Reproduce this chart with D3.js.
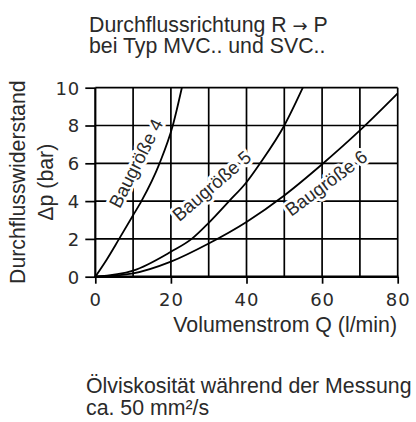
<!DOCTYPE html>
<html><head><meta charset="utf-8">
<script src="https://cdn.jsdelivr.net/npm/d3@7/dist/d3.min.js"></script>
<style>html,body{margin:0;padding:0;background:#fff;}svg{display:block;}</style>
</head><body>
<svg id="c" width="416" height="422"></svg>
<script>
// ---- data ----
const xTicks = [0, 20, 40, 60, 80];
const yTicks = [0, 2, 4, 6, 8, 10];
const xGrid = [10, 20, 30, 40, 50, 60, 70, 80];
const yGrid = [2, 4, 6, 8, 10];
const q4 = [0, 3, 6.3, 10, 12.2, 17, 20.5, 22.9];
const p4 = [0, 0.9, 2, 3.25, 4, 6, 8, 10];
const q5 = [0, 10, 20, 25.5, 30, 35.4, 40, 43.6, 50, 54.9];
const p5 = [0, 0.32, 1.32, 2, 2.85, 4, 5.0, 6, 8, 10];
const q6 = [0, 10, 20, 30, 40, 50, 60, 70, 80];
const p6 = [0, 0.18, 0.8, 1.76, 2.9, 4.3, 5.95, 7.74, 9.7];
const seriesNames = ["Baugröße 4", "Baugröße 5", "Baugröße 6"];
const titleLines = [["Durchflussrichtung R ", "\u2192", " P"], ["bei Typ MVC.. und SVC..", "", ""]];
const yTitleLines = ["Durchflusswiderstand", "\u0394p (bar)"];
const xTitle = "Volumenstrom Q (l/min)";
const footLines = ["Ölviskosität während der Messung", "ca. 50 mm\u00B2/s"];

// ---- layout ----
const svg = d3.select("#c");
const x = d3.scaleLinear().domain([0, 80]).range([95.3, 397.7]);
const y = d3.scaleLinear().domain([0, 10]).range([276.7, 87.7]);
const labelPos = [{q: 12.3, p: 5.85, a: -63}, {q: 31.9, p: 4.55, a: -40.7}, {q: 62.1, p: 4.68, a: -36.5}];
const txt = "#2a2a2a";
const sans = "'Liberation Sans', Arial, Helvetica, sans-serif";
const gw = 1.7;

// axes (labels + tick marks)
const yAxis = d3.axisLeft(y).tickValues(yTicks).tickSize(10).tickPadding(5).tickFormat(d3.format("d"));
const xAxis = d3.axisBottom(x).tickValues(xTicks).tickSize(7).tickPadding(6).tickFormat(d3.format("d"));
const gy = svg.append("g").attr("transform", `translate(${x(0)},0)`).call(yAxis);
const gx = svg.append("g").attr("transform", `translate(0,${y(0)})`).call(xAxis);
[gy, gx].forEach(ax => {
  ax.select(".domain").remove();
  ax.selectAll(".tick line").attr("stroke", "#000").attr("stroke-width", gw);
  ax.selectAll(".tick text").attr("fill", txt).attr("font-family", "'DejaVu Sans', sans-serif")
    .attr("font-size", 18).style("letter-spacing", "1px");
});
gy.selectAll(".tick text").attr("dy", "0.36em");
gx.selectAll(".tick text").attr("dy", "0.9em");

// grid lines
xGrid.forEach(d => {
  svg.append("line").attr("x1", x(d)).attr("x2", x(d)).attr("y1", y(0)).attr("y2", y(10))
    .attr("stroke", "#000").attr("stroke-width", gw);
});
yGrid.forEach(d => {
  svg.append("line").attr("x1", x(0)).attr("x2", x(80)).attr("y1", y(d)).attr("y2", y(d))
    .attr("stroke", "#000").attr("stroke-width", gw);
});

svg.append("line").attr("x1", x(0)).attr("x2", x(0)).attr("y1", y(10)).attr("y2", y(0) + 1)
  .attr("stroke", "#000").attr("stroke-width", 2.2);
svg.append("line").attr("x1", x(0) - 1).attr("x2", x(80) + 0.8).attr("y1", y(0)).attr("y2", y(0))
  .attr("stroke", "#000").attr("stroke-width", 2.5);

// curves
const line = d3.line().x(d => x(d[0])).y(d => y(d[1])).curve(d3.curveMonotoneX);
const series = [d3.zip(q4, p4), d3.zip(q5, p5), d3.zip(q6, p6)];
series.forEach(s => {
  svg.append("path").datum(s).attr("d", line).attr("fill", "none")
    .attr("stroke", "#000").attr("stroke-width", 1.8);
});

// curve labels
seriesNames.forEach((d, i) => {
  svg.append("text")
    .attr("transform", `translate(${x(labelPos[i].q)},${y(labelPos[i].p)}) rotate(${labelPos[i].a})`)
    .attr("text-anchor", "middle").attr("font-family", sans).attr("font-size", 18.5)
    .attr("fill", txt).attr("stroke", "#fff").attr("stroke-width", 6).attr("paint-order", "stroke")
    .attr("stroke-linejoin", "round").text(d);
});

// titles
const fs = 21.3;
titleLines.forEach((t, i) => {
  const tx = svg.append("text").attr("font-family", sans).attr("font-size", fs).attr("fill", txt)
    .attr("x", 89).attr("y", 31.7 + i * 21.6);
  tx.append("tspan").text(t[0]);
  if (t[1]) tx.append("tspan").attr("font-family", "'DejaVu Sans', sans-serif").attr("font-size", 18).text(t[1]);
  if (t[2]) tx.append("tspan").text(t[2]);
});

yTitleLines.forEach((t, i) => {
  svg.append("text").attr("font-family", sans).attr("font-size", fs).attr("fill", txt)
    .attr("text-anchor", "middle")
    .attr("transform", `translate(${25 + i * 28},${(y(0) + y(10)) / 2}) rotate(-90)`).text(t);
});

svg.append("text").attr("font-family", sans).attr("font-size", fs).attr("fill", txt)
  .attr("text-anchor", "end").attr("x", 397).attr("y", 331.7).text(xTitle);

footLines.forEach((t, i) => {
  svg.append("text").attr("font-family", sans).attr("font-size", fs).attr("fill", txt)
    .attr("x", 86).attr("y", 393.3 + i * 21.7).text(t);
});
</script>
</body></html>
